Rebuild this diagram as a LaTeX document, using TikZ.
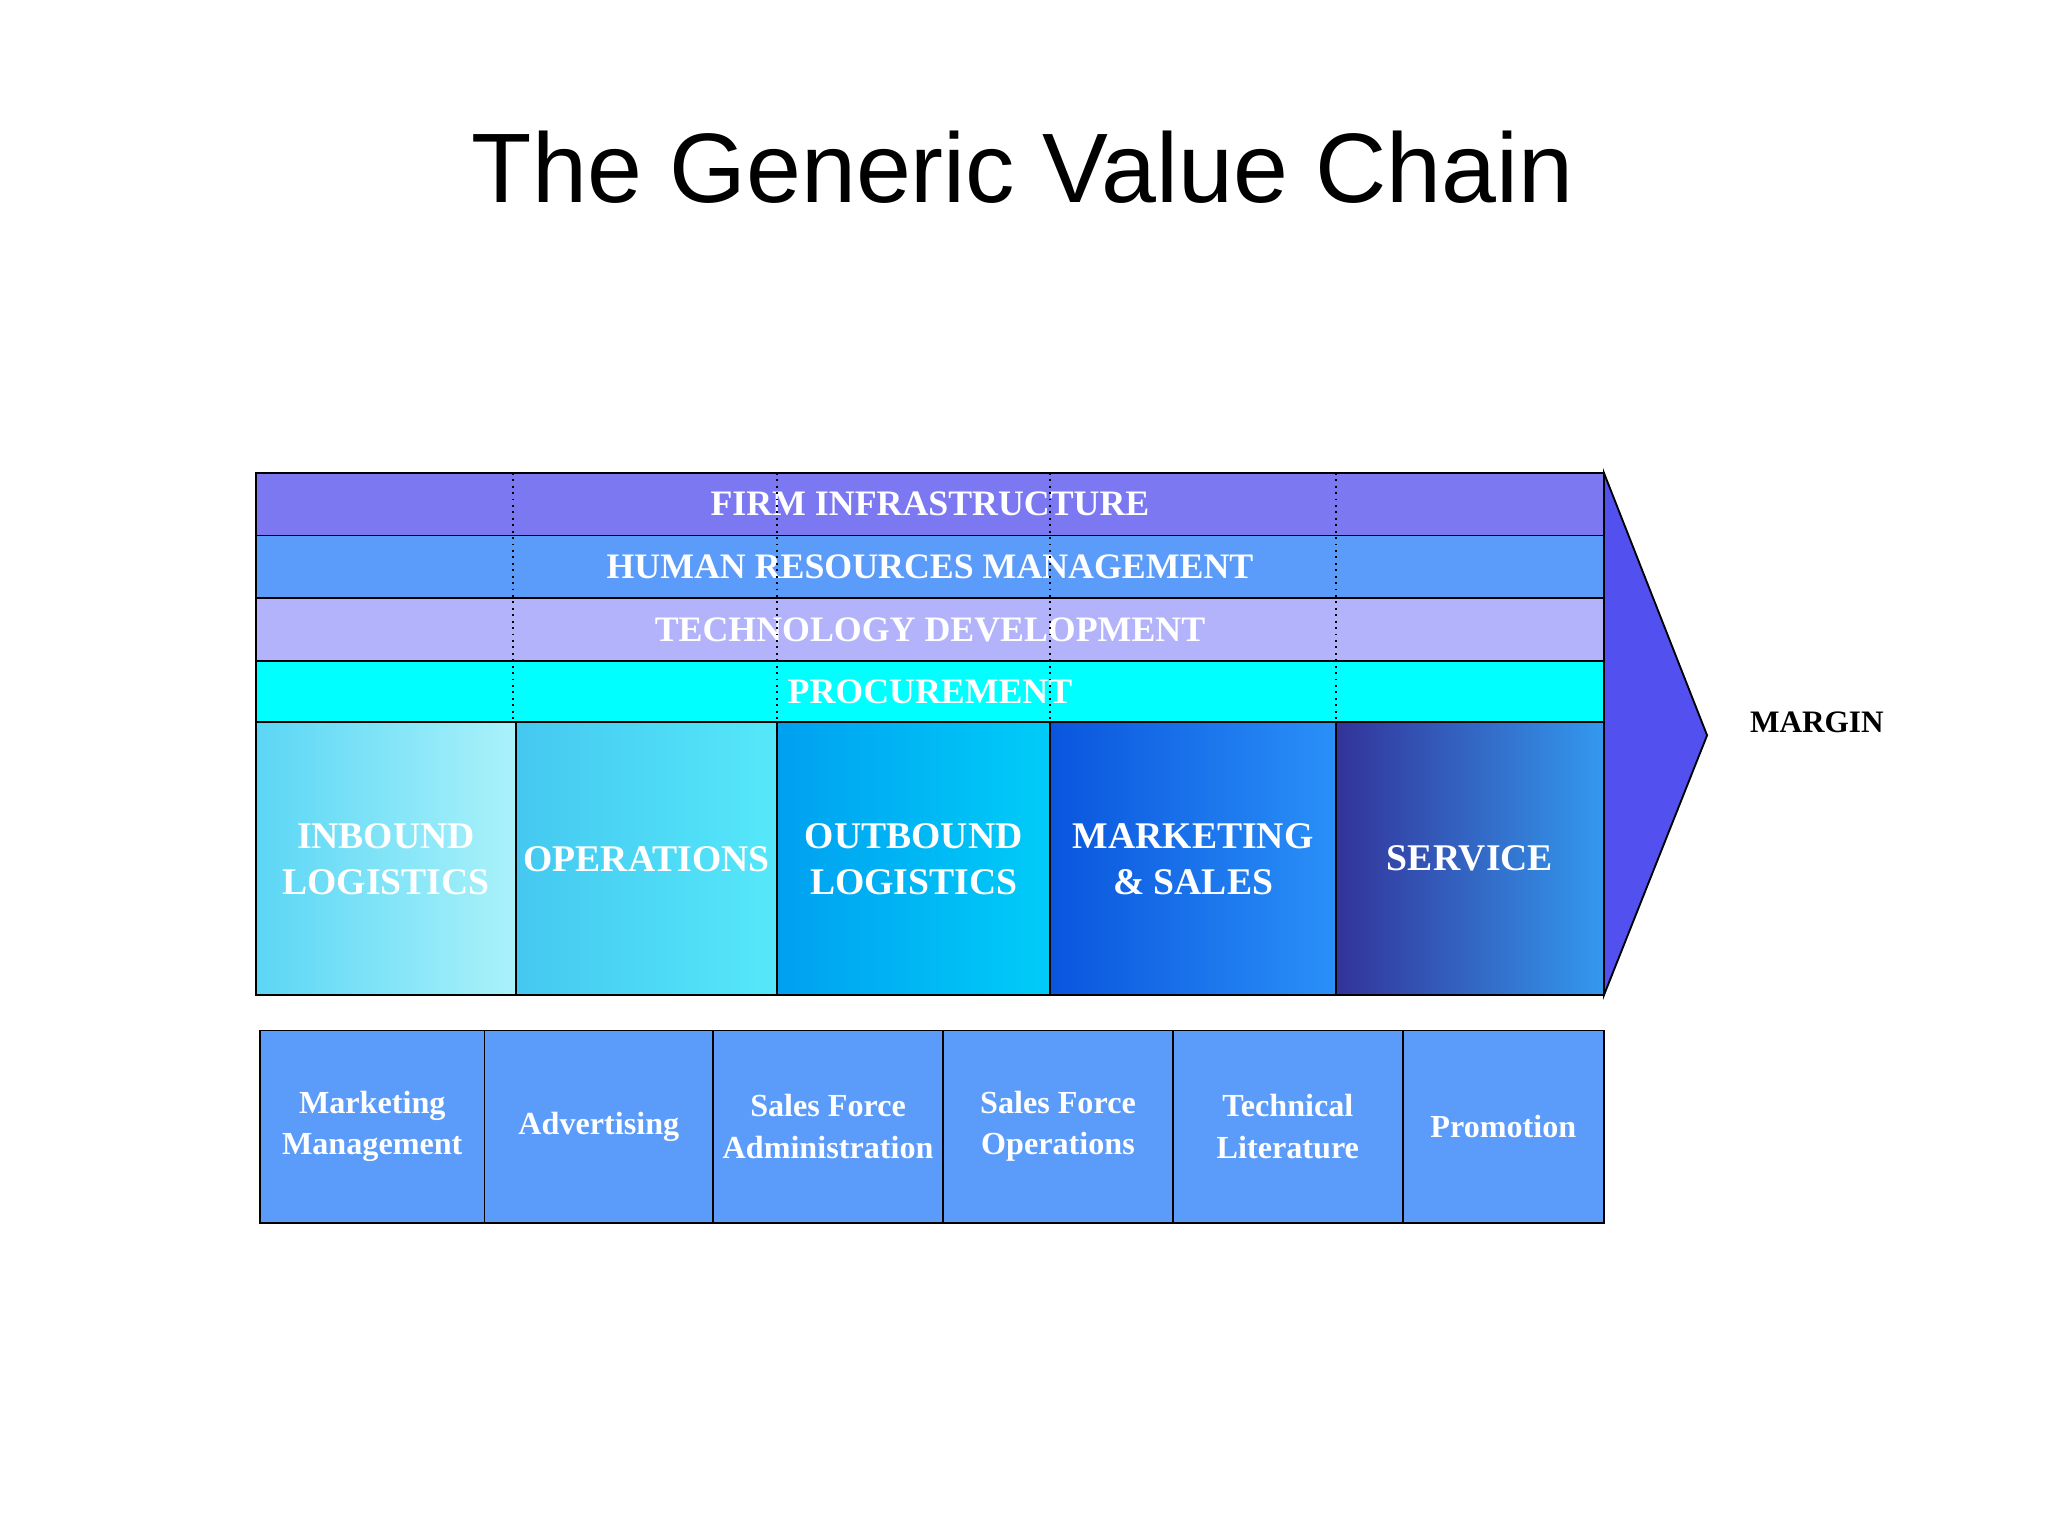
\documentclass[tikz,border=0pt]{standalone}
\usepackage{fontspec}
\setmainfont{Liberation Serif}
\newfontfamily\titlefont{Liberation Sans}
\definecolor{firm-purple}{RGB}{123, 120, 242}
\definecolor{hr-blue}{RGB}{91, 155, 250}
\definecolor{tech-lilac}{RGB}{179, 179, 251}
\definecolor{proc-cyan}{RGB}{0, 255, 255}
\definecolor{margin-blue}{RGB}{82, 80, 238}
\begin{document}
\begin{tikzpicture}[
        x=0.01cm, y=-0.01cm,
        support/.style={shape=rectangle, draw, minimum width=10.32cm, minimum height=0.48cm,
            text=white, font=\fontsize{7.8}{9}\selectfont\bfseries, inner sep=0pt},
        primary/.style={shape=rectangle, draw, minimum height=2.09cm, align=center,
            text=white, font=\fontsize{8.2}{10}\selectfont\bfseries, inner sep=0pt},
        sub/.style={shape=rectangle, draw, fill=hr-blue, minimum height=1.47cm, align=center,
            text=white, font=\fontsize{7}{9}\selectfont\bfseries, inner sep=0pt},
    ]
        \useasboundingbox (0,0) rectangle (1568,1176);
        \node[font=\titlefont\fontsize{21.5}{24}\selectfont] (title) at (783,128) {The Generic Value Chain};
        % margin arrow
        \filldraw[fill=margin-blue, draw=black] (1228,362) -- (1307,563) -- (1228,762) -- cycle;
        \node[font=\fontsize{6.8}{8}\selectfont\bfseries] (margin) at (1391,553) {MARGIN};
        % support activities
        \node[support, fill=firm-purple] (firm) at (712,386) {FIRM INFRASTRUCTURE};
        \node[support, fill=hr-blue] (hr) at (712,434) {HUMAN RESOURCES MANAGEMENT};
        \node[support, fill=tech-lilac] (tech) at (712,482) {TECHNOLOGY DEVELOPMENT};
        \node[support, fill=proc-cyan] (proc) at (712,530) {PROCUREMENT};
        \foreach \x in {393,595,804,1023}
            \draw[densely dotted] (\x,362) -- (\x,553);
        % primary activities
        \node[primary, minimum width=1.99cm, left color={rgb,255:red,91;green,214;blue,245}, right color={rgb,255:red,170;green,242;blue,250}] (inbound) at (295.5,657.5) {INBOUND\\LOGISTICS};
        \node[primary, minimum width=2.00cm, left color={rgb,255:red,69;green,200;blue,240}, right color={rgb,255:red,85;green,232;blue,250}] (ops) at (495,657.5) {OPERATIONS};
        \node[primary, minimum width=2.09cm, left color={rgb,255:red,0;green,160;blue,240}, right color={rgb,255:red,0;green,204;blue,248}] (outbound) at (699.5,657.5) {OUTBOUND\\LOGISTICS};
        \node[primary, minimum width=2.19cm, left color={rgb,255:red,10;green,85;blue,221}, right color={rgb,255:red,42;green,144;blue,248}] (mkt) at (913.5,657.5) {MARKETING\\\& SALES};
        \node[primary, minimum width=2.05cm, left color={rgb,255:red,51;green,51;blue,153}, right color={rgb,255:red,51;green,153;blue,238}] (service) at (1125.5,657.5) {SERVICE};
        % marketing & sales breakdown
        \node[sub, minimum width=1.72cm] (mgmt) at (285,862.5) {Marketing\\Management};
        \node[sub, minimum width=1.75cm] (adv) at (458.5,862.5) {Advertising};
        \node[sub, minimum width=1.76cm] (sfa) at (634,862.5) {Sales Force\\Administration};
        \node[sub, minimum width=1.76cm] (sfo) at (810,862.5) {Sales Force\\Operations};
        \node[sub, minimum width=1.76cm] (tlit) at (986,862.5) {Technical\\Literature};
        \node[sub, minimum width=1.54cm] (promo) at (1151,862.5) {Promotion};
    \end{tikzpicture}
\end{document}
